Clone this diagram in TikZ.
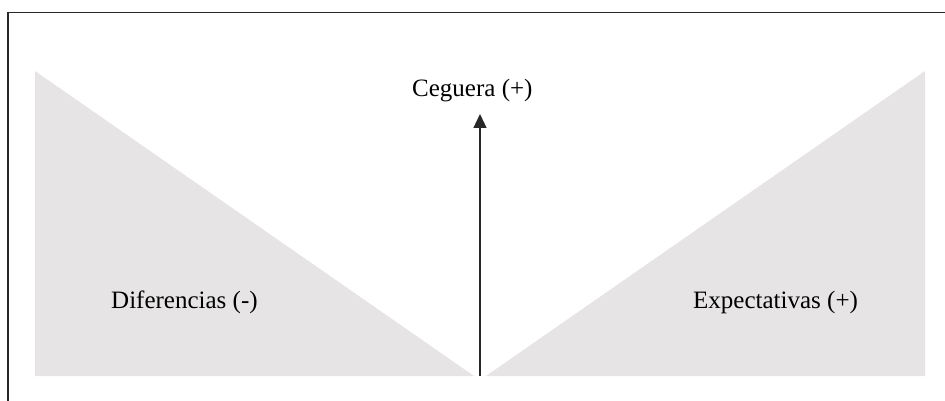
\documentclass[tikz,border=0pt]{standalone}
\usepackage{fontspec}
\setmainfont{Liberation Serif}
\usetikzlibrary{arrows.meta}
\definecolor{shade}{RGB}{230,228,229}
\definecolor{ink}{RGB}{40,40,40}
\begin{document}
\begin{tikzpicture}[x=1pt,y=-1pt,
  frameline/.style={draw=ink,line width=1.4pt},
  wedge/.style={fill=shade,draw=none},
  lbl/.style={inner sep=0pt,font=\fontsize{25}{30}\selectfont,anchor=base west},
  axis/.style={draw=ink,line width=1.3pt,-{Triangle[width=13pt,length=14pt]}}]
\useasboundingbox (0,0) rectangle (945,401);
% frame
\draw[frameline] (8,401) -- (8,12.5) -- (945,12.5);
% wedges
\fill[wedge] (35,71) -- (35,376) -- (474,376) -- cycle;
\fill[wedge] (925,71) -- (925,376) -- (486,376) -- cycle;
% labels
\node[lbl] (ceg) at (412,97) {Ceguera (+)};
\node[lbl] (dif) at (111,308) {Diferencias (-)};
\node[lbl] (exp) at (693,308) {Expectativas (+)};
% arrow
\coordinate (abot) at (480,376);
\coordinate (atop) at (480,114);
\draw[axis] (abot) -- (atop);
\end{tikzpicture}
\end{document}
